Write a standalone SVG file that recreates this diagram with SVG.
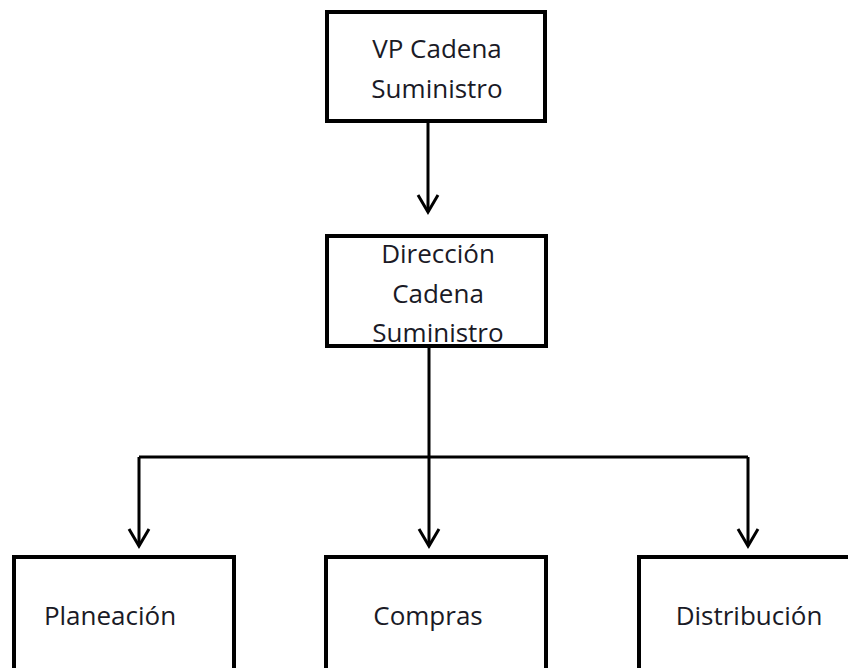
<svg xmlns="http://www.w3.org/2000/svg" width="848" height="668" viewBox="0 0 848 668">
<defs>
<style>
.box{fill:#fff;stroke:#000;stroke-width:4}
.lbl{font-family:"Open Sans","Noto Sans",sans-serif;font-size:26px;fill:#1a1a26;text-anchor:middle}
.con{fill:none;stroke:#000;stroke-width:3}
.head{fill:none;stroke:#000;stroke-width:3;stroke-linejoin:miter}
</style>
</defs>
<rect width="848" height="668" fill="#fff"/>
<g id="connectors">
<path class="con" d="M428 121V212"/>
<path class="head" d="M418 195L428 212L438 195"/>
<path class="con" d="M429 346V457M139 457H748M139 457V546M429 457V546M748 457V546"/>
<path class="head" d="M129 529L139 546L149 529"/>
<path class="head" d="M419 529L429 546L439 529"/>
<path class="head" d="M738 529L748 546L758 529"/>
</g>
<g id="vp">
<rect class="box" x="327" y="12" width="218" height="109"/>
<text class="lbl" x="437" y="58">VP Cadena</text>
<text class="lbl" x="437" y="98">Suministro</text>
</g>
<g id="direccion">
<rect class="box" x="327" y="236" width="219" height="110"/>
<text class="lbl" x="438" y="263">Dirección</text>
<text class="lbl" x="438" y="303">Cadena</text>
<text class="lbl" x="438" y="342">Suministro</text>
</g>
<g id="planeacion">
<rect class="box" x="14" y="557" width="220" height="130"/>
<text class="lbl" x="110" y="625">Planeación</text>
</g>
<g id="compras">
<rect class="box" x="326" y="557" width="220" height="130"/>
<text class="lbl" x="428" y="625">Compras</text>
</g>
<g id="distribucion">
<rect class="box" x="639" y="557" width="230" height="130"/>
<text class="lbl" x="749" y="625">Distribución</text>
</g>
</svg>
